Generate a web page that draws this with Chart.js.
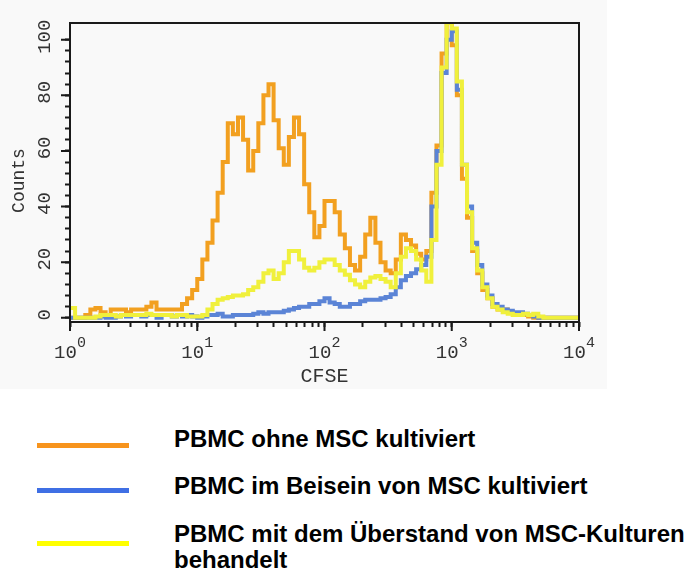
<!DOCTYPE html>
<html>
<head>
<meta charset="utf-8">
<script src="https://cdn.jsdelivr.net/npm/chart.js@4.4.1/dist/chart.umd.min.js"></script>
<style>
    body { margin: 0; background: #fff; }
    #wrap { position: relative; width: 687px; height: 572px; overflow: hidden; }
    #histo { position: absolute; left: 0; top: 0; }
    .key-line { position: absolute; left: 37px; width: 92px; height: 5px; }
    .key-text {
        position: absolute; left: 174px; white-space: nowrap;
        font: bold 24px "Liberation Sans", Arial, sans-serif; line-height: 26px; color: #000;
    }
</style>
</head>
<body>
<div id="wrap">
    <canvas id="histo" width="607" height="389"></canvas>

    <div class="key-line" style="top:443px; background:#f7941d;"></div>
    <div class="key-text" style="top:426px;">PBMC ohne MSC kultiviert</div>

    <div class="key-line" style="top:488px; background:#3f6fe4;"></div>
    <div class="key-text" style="top:473px;">PBMC im Beisein von MSC kultiviert</div>

    <div class="key-line" style="top:541px; background:#ffff00;"></div>
    <div class="key-text" style="top:521px;">PBMC mit dem Überstand von MSC-Kulturen<br>behandelt</div>
</div>

<script>
// 100 log channels across four decades (edges, so one more than bins)
const channelEdges = Array.from({length: 101}, (_, i) => 10 ** (i * 0.04));

// counts per channel
const ohneMSC = [
    0, 0, 0, 1, 3, 3.5, 2, 1, 3, 3,
    3, 2, 3, 3, 3, 4, 5.5, 3, 3, 3,
    3, 3, 5, 7, 10, 14, 21, 27, 35, 45,
    56, 70, 66, 72, 64, 53, 60, 70, 80, 84,
    71, 61, 55, 65, 72, 66, 48, 38, 29, 33,
    42, 42, 38, 30, 25, 19, 17, 22, 30, 36,
    27, 20, 17, 16, 21, 30, 28, 26, 23, 21,
    24, 45, 62, 95, 110, 98, 80, 50, 36, 24,
    16, 10, 7, 4, 3, 3, 2, 1, 1, 1,
    0.5, 0, 0, 0, 0, 0, 0, 0, 0, 0
];
const mitMSC = [
    0, 0, 0, 0, 0, 0, 0.5, 0, 0, 0.5,
    1, 0.5, 1, 1, 0.5, 1, 1, 0, 1, 1,
    0.5, 1, 0.5, 1, 0.5, 0, 0.5, 1, 1, 1.5,
    0.5, 0.5, 1, 1, 1, 1, 1.5, 2, 1.5, 2,
    2, 2, 2.5, 3, 3.5, 4, 4, 5, 5, 6,
    7, 5.5, 5, 4, 4, 5, 5, 6, 6.5, 6.5,
    6.5, 7, 7.5, 8.5, 11, 13.5, 15, 16, 17.5, 19,
    22, 40, 60, 88, 100, 103, 82, 55, 40, 27,
    19, 12, 8, 5, 4, 3, 2.5, 2, 2, 1.5,
    1, 0.5, 0, 0, 0, 0, 0, 0, 0, 0
];
const ueberstand = [
    3.5, 0, 0, 0, 0, 0.5, 1, 1, 1, 0.5,
    1, 1, 1, 1, 1, 1.5, 1, 1, 1, 1,
    0.5, 1, 1, 0.5, 0.5, 0.5, 1, 3, 5, 6.5,
    7, 7.5, 8, 8, 8.5, 10, 11, 13, 16, 17,
    14, 16, 20, 24, 24, 21, 18, 17, 18, 20,
    21, 21, 19, 17, 15.5, 13.5, 12, 11, 13, 14.5,
    15, 14, 13, 11, 16, 22, 25, 24, 21, 17,
    13, 28, 55, 90, 106, 104, 85, 55, 38, 25,
    17, 11, 7, 4, 3, 2, 1.5, 1, 1, 1.5,
    1, 1.5, 0.5, 0, 0, 0, 0, 0, 0, 0
];

// axis ticks
const xDecades = [0, 1, 2, 3, 4];
const xMinor = [2, 3, 4, 5, 6, 7, 8, 9];
const yMajor = [0, 20, 40, 60, 80, 100];
const yMinor = [4, 8, 12, 16, 24, 28, 32, 36, 44, 48, 52, 56, 64, 68, 72, 76, 84, 88, 92, 96];

const xTickValues = [];
xDecades.forEach(d => {
    xTickValues.push(10 ** d);
    if (d < 4) xMinor.forEach(m => xTickValues.push(m * 10 ** d));
});
const yTickValues = [...yMajor, ...yMinor].sort((a, b) => a - b);

// step histogram: each count holds from its left edge to the next one
function toSteps(counts) {
    const pts = counts.map((c, i) => ({x: channelEdges[i], y: c}));
    pts.push({x: channelEdges[counts.length], y: counts[counts.length - 1]});
    return pts;
}

const monoFont = '"Liberation Mono", "Courier New", monospace';

const frameAndLabels = {
    id: 'frameAndLabels',
    beforeDraw(chart) {
        const ctx = chart.ctx;
        ctx.save();
        ctx.fillStyle = '#f9f9f9';
        ctx.fillRect(0, 0, chart.width, chart.height);
        ctx.restore();
    },
    afterDraw(chart) {
        const {ctx, chartArea: a, scales: {x, y}} = chart;
        ctx.save();

        // plot frame
        ctx.strokeStyle = '#1a1a1a';
        ctx.lineWidth = 2;
        ctx.strokeRect(a.left, a.top, a.right - a.left, a.bottom - a.top);

        // longer marks for the decades and the labelled counts
        ctx.beginPath();
        xDecades.forEach(d => {
            const px = x.getPixelForValue(10 ** d);
            ctx.moveTo(px, a.bottom);
            ctx.lineTo(px, a.bottom + 9);
        });
        yMajor.forEach(v => {
            const py = y.getPixelForValue(v);
            ctx.moveTo(a.left - 9, py);
            ctx.lineTo(a.left, py);
        });
        ctx.stroke();

        ctx.fillStyle = '#333';

        // x labels: 10 with raised exponent
        xDecades.forEach(d => {
            const px = x.getPixelForValue(10 ** d);
            ctx.font = '19px ' + monoFont;
            const wBase = ctx.measureText('10').width;
            ctx.font = '15px ' + monoFont;
            const wExp = ctx.measureText(String(d)).width;
            const left = px - (wBase + wExp) / 2;
            ctx.textAlign = 'left';
            ctx.textBaseline = 'alphabetic';
            ctx.font = '19px ' + monoFont;
            ctx.fillText('10', left, a.bottom + 36);
            ctx.font = '15px ' + monoFont;
            ctx.fillText(String(d), left + wBase, a.bottom + 25);
        });

        ctx.font = '20px ' + monoFont;
        ctx.textAlign = 'center';
        ctx.fillText('CFSE', (a.left + a.right) / 2, a.bottom + 60);

        // y labels, turned to read upwards
        ctx.font = '19px ' + monoFont;
        ctx.textBaseline = 'middle';
        yMajor.forEach(v => {
            const py = y.getPixelForValue(v);
            ctx.save();
            ctx.translate(a.left - 25, py - 3);
            ctx.rotate(-Math.PI / 2);
            ctx.fillText(String(v), 0, 0);
            ctx.restore();
        });

        ctx.font = '18px ' + monoFont;
        ctx.save();
        ctx.translate(19, (a.top + a.bottom) / 2 + 8);
        ctx.rotate(-Math.PI / 2);
        ctx.fillText('Counts', 0, 0);
        ctx.restore();

        ctx.restore();
    }
};

function lineSet(label, counts, color, order) {
    return {
        label: label,
        data: toSteps(counts),
        borderColor: color,
        borderWidth: 4,
        borderJoinStyle: 'miter',
        borderCapStyle: 'butt',
        stepped: 'before',
        pointRadius: 0,
        fill: false,
        order: order
    };
}

new Chart(document.getElementById('histo'), {
    type: 'line',
    data: {
        datasets: [
            lineSet('PBMC ohne MSC kultiviert', ohneMSC, '#f2a020', 2),
            lineSet('PBMC im Beisein von MSC kultiviert', mitMSC, '#5b84d6', 1),
            lineSet('PBMC mit dem Überstand von MSC-Kulturen behandelt', ueberstand, '#f0f03c', 0)
        ]
    },
    options: {
        responsive: false,
        animation: false,
        devicePixelRatio: 1,
        layout: { padding: { top: 23, right: 28, left: 0, bottom: 0 } },
        plugins: { legend: { display: false }, tooltip: { enabled: false } },
        scales: {
            x: {
                type: 'logarithmic',
                min: 1,
                max: 10000,
                afterBuildTicks: s => { s.ticks = xTickValues.map(v => ({value: v})); },
                afterFit: s => { s.height = 67; },
                ticks: { display: false },
                border: { display: false },
                grid: { drawOnChartArea: false, drawTicks: true, tickLength: 5, tickWidth: 2, tickColor: '#1a1a1a' }
            },
            y: {
                min: -1.5,
                max: 106,
                afterBuildTicks: s => { s.ticks = yTickValues.map(v => ({value: v})); },
                afterFit: s => { s.width = 70; },
                ticks: { display: false },
                border: { display: false },
                grid: { drawOnChartArea: false, drawTicks: true, tickLength: 5, tickWidth: 2, tickColor: '#1a1a1a' }
            }
        }
    },
    plugins: [frameAndLabels]
});
</script>
</body>
</html>
